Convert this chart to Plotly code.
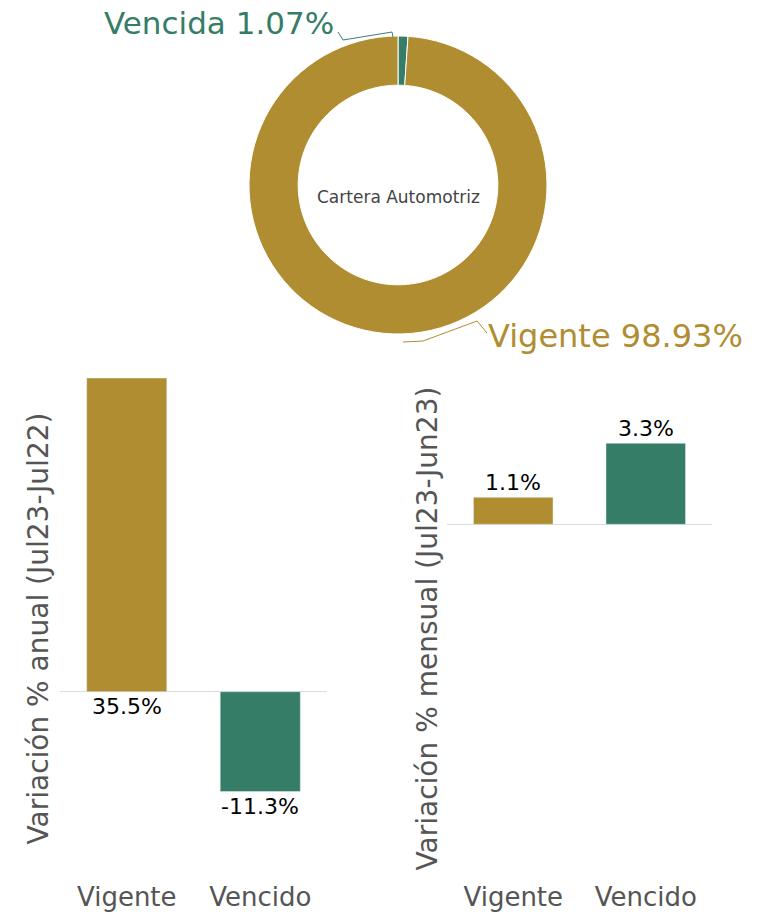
import plotly.graph_objects as go

# ---- data ----
pie_labels = ["Vencida", "Vigente"]
pie_values = [1.07, 98.93]
center_text = "Cartera Automotriz"

bar_categories = ["Vigente", "Vencido"]
annual_values = [35.5, -11.3]
monthly_values = [1.1, 3.3]
annual_title = "Variación % anual (Jul23-Jul22)"
monthly_title = "Variación % mensual (Jul23-Jun23)"

# ---- style ----
W, H = 769, 916
GOLD = "#B08D30"
GREEN = "#357D66"
GRAY = "#555555"
FONT = "DejaVu Sans"
colors = [GOLD, GREEN]
pie_colors = [GREEN, GOLD]


def px_x(p):
    return p / W


def px_y(p):
    return 1 - p / H


fig = go.Figure()

pie_dom_x = [px_x(249), px_x(547)]
pie_dom_y = [px_y(334), px_y(36)]
fig.add_trace(go.Pie(
    labels=pie_labels, values=pie_values, sort=False,
    direction="counterclockwise", rotation=0, hole=0.67,
    textinfo="none", hoverinfo="label+percent",
    marker=dict(colors=pie_colors, line=dict(color="white", width=1)),
    domain=dict(x=pie_dom_x, y=pie_dom_y), showlegend=False,
))

fig.add_trace(go.Bar(x=bar_categories, y=annual_values, marker_color=colors,
                     width=0.6, xaxis="x", yaxis="y", showlegend=False,
                     cliponaxis=False))
fig.add_trace(go.Bar(x=bar_categories, y=monthly_values, marker_color=colors,
                     width=0.6, xaxis="x2", yaxis="y2", showlegend=False,
                     cliponaxis=False))

bar_dom_y = [px_y(879), px_y(378)]
axis_common = dict(showgrid=False, showline=False, ticks="")
yax_common = dict(showgrid=False, showline=False, ticks="", showticklabels=False,
                  zeroline=True, zerolinecolor="#dcdcdc", zerolinewidth=1,
                  title_font=dict(family=FONT, size=28, color=GRAY))

annotations = []
# pie labels
annotations.append(dict(x=px_x(219), y=px_y(23), xref="paper", yref="paper",
                        text=f"{pie_labels[0]} {pie_values[0]:.2f}%", showarrow=False,
                        font=dict(family=FONT, size=31, color=GREEN),
                        xanchor="center", yanchor="middle"))
annotations.append(dict(x=px_x(615), y=px_y(336), xref="paper", yref="paper",
                        text=f"{pie_labels[1]} {pie_values[1]:.2f}%", showarrow=False,
                        font=dict(family=FONT, size=32, color=GOLD),
                        xanchor="center", yanchor="middle"))
annotations.append(dict(x=sum(pie_dom_x) / 2, y=sum(pie_dom_y) / 2, xref="paper", yref="paper",
                        text=center_text, showarrow=False,
                        font=dict(family=FONT, size=17, color="#444444")))

# bar value labels
for cat, v in zip(bar_categories, annual_values):
    annotations.append(dict(x=cat, y=min(v, 0), xref="x", yref="y", text=f"{v}%",
                            showarrow=False, yanchor="top",
                            font=dict(family=FONT, size=22, color="black")))
for cat, v in zip(bar_categories, monthly_values):
    annotations.append(dict(x=cat, y=v, xref="x2", yref="y2", text=f"{v}%",
                            showarrow=False, yanchor="bottom",
                            font=dict(family=FONT, size=22, color="black")))

shapes = [
    dict(type="path", xref="paper", yref="paper",
         path=f"M {px_x(393)} {px_y(37)} L {px_x(392)} {px_y(32)} L {px_x(343)} {px_y(40)} L {px_x(338)} {px_y(32)}",
         line=dict(color="#3f7d78", width=1)),
    dict(type="path", xref="paper", yref="paper",
         path=f"M {px_x(403)} {px_y(342)} L {px_x(423)} {px_y(341)} L {px_x(477)} {px_y(321)} L {px_x(487)} {px_y(333)}",
         line=dict(color=GOLD, width=1)),
]

fig.update_layout(
    width=W, height=H,
    margin=dict(l=0, r=0, t=0, b=0),
    paper_bgcolor="white", plot_bgcolor="white",
    font=dict(family=FONT, color=GRAY),
    bargap=0.4,
    xaxis=dict(domain=[px_x(60), px_x(327)], anchor="y", **axis_common,
               tickfont=dict(family=FONT, size=26, color=GRAY)),
    yaxis=dict(domain=bar_dom_y, anchor="x", range=[-21.2, 35.5],
               title=dict(text=annual_title, standoff=2), **yax_common),
    xaxis2=dict(domain=[px_x(447), px_x(712)], anchor="y2", **axis_common,
                tickfont=dict(family=FONT, size=26, color=GRAY)),
    yaxis2=dict(domain=bar_dom_y, anchor="x2", range=[-14.45, 5.96],
                title=dict(text=monthly_title, standoff=0), **yax_common),
    annotations=annotations,
    shapes=shapes,
)

fig.write_html(
    "out.html",
    config={"displayModeBar": False},
    post_script="document.body.style.margin='0px';document.body.style.overflow='hidden';",
)
